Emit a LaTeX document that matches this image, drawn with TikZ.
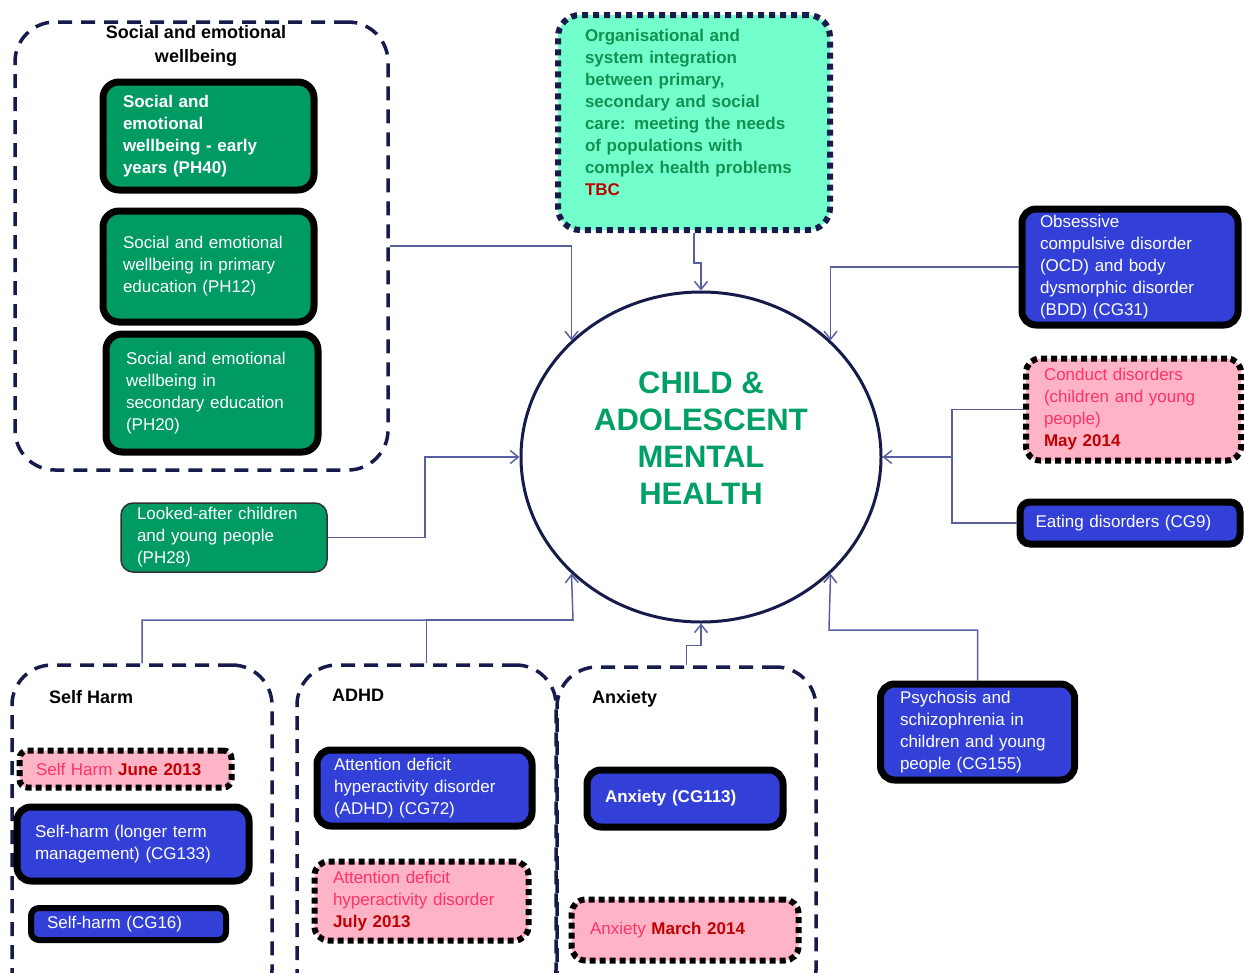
\documentclass[tikz,border=0pt]{standalone}
\usepackage{fontspec}
\setmainfont{Liberation Sans}
\usetikzlibrary{shapes.geometric,arrows.meta}
\definecolor{navy}{HTML}{161B4C}
\definecolor{sewgreen}{HTML}{009A63}
\definecolor{cgblue}{HTML}{3340D8}
\definecolor{pinkbg}{HTML}{FFB3C6}
\definecolor{pinktxt}{HTML}{FF3366}
\definecolor{datered}{HTML}{C00000}
\definecolor{aqua}{HTML}{73FFCC}
\definecolor{orggreen}{HTML}{129152}
\definecolor{camgreen}{HTML}{00A064}
\definecolor{linkcol}{HTML}{5A5F9E}

\begin{document}
\begin{tikzpicture}[x=1pt,y=-1pt]
	    \tikzstyle{every node}+=[inner sep=0pt]
	    \tikzstyle{txt}=[font=\fontsize{17}{22}\selectfont, align=left]
	    \tikzstyle{btxt}=[font=\bfseries\fontsize{17}{22}\selectfont, align=left]
	    \tikzstyle{grp}=[draw=navy, line width=3.5pt, dash pattern=on 14pt off 9pt, rounded corners=40pt]
	    \tikzstyle{gbox}=[fill=sewgreen, draw=black, line width=7pt, rounded corners=16pt, text=white]
	    \tikzstyle{bbox}=[fill=cgblue, draw=black, line width=7pt, rounded corners=14pt, text=white]
	    \tikzstyle{pbox}=[txt, fill=pinkbg, draw=black, line width=6pt, dash pattern=on 6pt off 4pt, rounded corners=14pt, text=pinktxt]
	    \tikzstyle{ttl}=[font=\bfseries\fontsize{18}{24}\selectfont, text=black]
	    \tikzstyle{link}=[draw=linkcol, line width=1.5pt, -{Straight Barb[length=8pt,width=13pt]}]
	    \tikzstyle{feed}=[draw=linkcol, line width=1.5pt]
	    \useasboundingbox (0,0) rectangle (1244,972);
	    \clip (0,0) rectangle (1244,972);
	    % centre
	    \node [draw=navy, line width=3pt, ellipse, minimum width=360pt, minimum height=330pt] (cam) at (701,457) {};
	    \node [font=\bfseries\fontsize{31}{37}\selectfont, text=camgreen, align=center] (camt) at (701,438.5) {CHILD \&\\ADOLESCENT\\MENTAL\\HEALTH};
	    % social and emotional wellbeing
	    \node [grp, minimum width=373pt, minimum height=448pt] (sew) at (201.5,246) {};
	    \node [ttl, align=center] (sewt) at (196,46) {Social and emotional\\wellbeing};
	    \node [gbox, btxt, minimum width=211pt, minimum height=108pt, text width=171pt] (ph40) at (208.5,136) {Social and\\emotional\\wellbeing - early\\years (PH40)};
	    \node [gbox, txt, minimum width=211pt, minimum height=111pt, text width=171pt] (ph12) at (208.5,266.5) {Social and emotional\\wellbeing in primary\\education (PH12)};
	    \node [gbox, txt, minimum width=212pt, minimum height=118pt, text width=172pt] (ph20) at (212,393) {Social and emotional\\wellbeing in\\secondary education\\(PH20)};
	    \node [btxt, fill=aqua, draw=navy, line width=6pt, dash pattern=on 6pt off 5pt, rounded corners=22pt, text=orggreen, minimum width=272pt, minimum height=215pt, text width=218pt] (org) at (694,122.5) {Organisational and\\system integration\\between primary,\\secondary and social\\care: meeting the needs\\of populations with\\complex health problems\\\textcolor{datered}{TBC}\par\vspace*{21pt}};
	    \node [gbox, txt, fill=sewgreen, draw=black!80, line width=1.5pt, rounded corners=12pt, minimum width=206pt, minimum height=69pt, text width=174pt] (lac) at (224,537.5) {Looked-after children\\and young people\\(PH28)};
	    % right hand side
	    \node [bbox, txt, minimum width=216pt, minimum height=116pt, text width=180pt] (ocd) at (1130,267) {Obsessive\\compulsive disorder\\(OCD) and body\\dysmorphic disorder\\(BDD) (CG31)};
	    \node [pbox, minimum width=215pt, minimum height=102pt, text width=179pt] (cond) at (1133.5,409.5) {Conduct disorders\\(children and young\\people)\\\textbf{\color{datered}May 2014}};
	    \node [bbox, txt, rounded corners=10pt, minimum width=220pt, minimum height=42pt, text width=189pt] (eat) at (1130,523) {Eating disorders (CG9)};
	    \node [bbox, txt, minimum width=194pt, minimum height=96pt, text width=155pt] (psy) at (977.5,732) {Psychosis and\\schizophrenia in\\children and young\\people (CG155)};
	    % self harm
	    \node [grp, minimum width=260pt, minimum height=345pt] (shg) at (142,837.5) {};
	    \node [ttl, anchor=west] (sht) at (49,697) {Self Harm};
	    \node [pbox, rounded corners=8pt, minimum width=212pt, minimum height=37pt, text width=179pt] (shj) at (125.5,769) {Self Harm \textbf{\color{datered}June 2013}};
	    \node [bbox, txt, minimum width=232pt, minimum height=74pt, text width=196pt] (shl) at (133,844) {Self-harm (longer term\\management) (CG133)};
	    \node [bbox, txt, line width=6pt, rounded corners=8pt, minimum width=195pt, minimum height=32pt, text width=163pt] (sh16) at (128.5,924) {Self-harm (CG16)};
	    % adhd
	    \node [grp, minimum width=259pt, minimum height=345pt] (adg) at (426.5,837.5) {};
	    \node [ttl, anchor=west] (adt) at (332,695) {ADHD};
	    \node [bbox, txt, minimum width=215pt, minimum height=76pt, text width=181pt] (ad72) at (424.5,788) {Attention deficit\\hyperactivity disorder\\(ADHD) (CG72)};
	    \node [pbox, minimum width=214pt, minimum height=79pt, text width=177pt] (adj) at (421.5,901) {Attention deficit\\hyperactivity disorder\\\textbf{\color{datered}July 2013}};
	    % anxiety
	    \node [grp, minimum width=259pt, minimum height=343pt] (axg) at (686.5,838.5) {};
	    \node [ttl, anchor=west] (axt) at (592,699) {Anxiety};
	    \node [bbox, btxt, minimum width=196pt, minimum height=57pt, text width=160pt] (ax113) at (685,798.5) {Anxiety (CG113)};
	    \node [pbox, minimum width=227pt, minimum height=61pt, text width=190pt] (axm) at (685,930) {Anxiety \textbf{\color{datered}March 2014}};
	    % connectors
	    \coordinate (lj) at (425,457);
	    \coordinate (rj) at (952,457);
	    \coordinate (bj) at (573,620);
	    \coordinate (pj) at (829,630);
	    \draw [link] (sew.east) -| (cam.138);
	    \draw [link] (org.south) -- ++(0,30) -| (cam.north);
	    \draw [link] (ocd.west) -| (cam.42);
	    \draw [link] (cond.west) -| (rj) -- (cam.east);
	    \draw [feed] (eat.west) -| (rj);
	    \draw [link] (lac.east) -| (lj) -- (cam.west);
	    \draw [link] (shg.north) |- (bj) -- (cam.222);
	    \draw [feed] (adg.north) |- (bj);
	    \draw [link] (axg.north) -- ++(0,-20) -| (cam.south);
	    \draw [link] (psy.north) |- (pj) -- (cam.318);
    \end{tikzpicture}
\end{document}
